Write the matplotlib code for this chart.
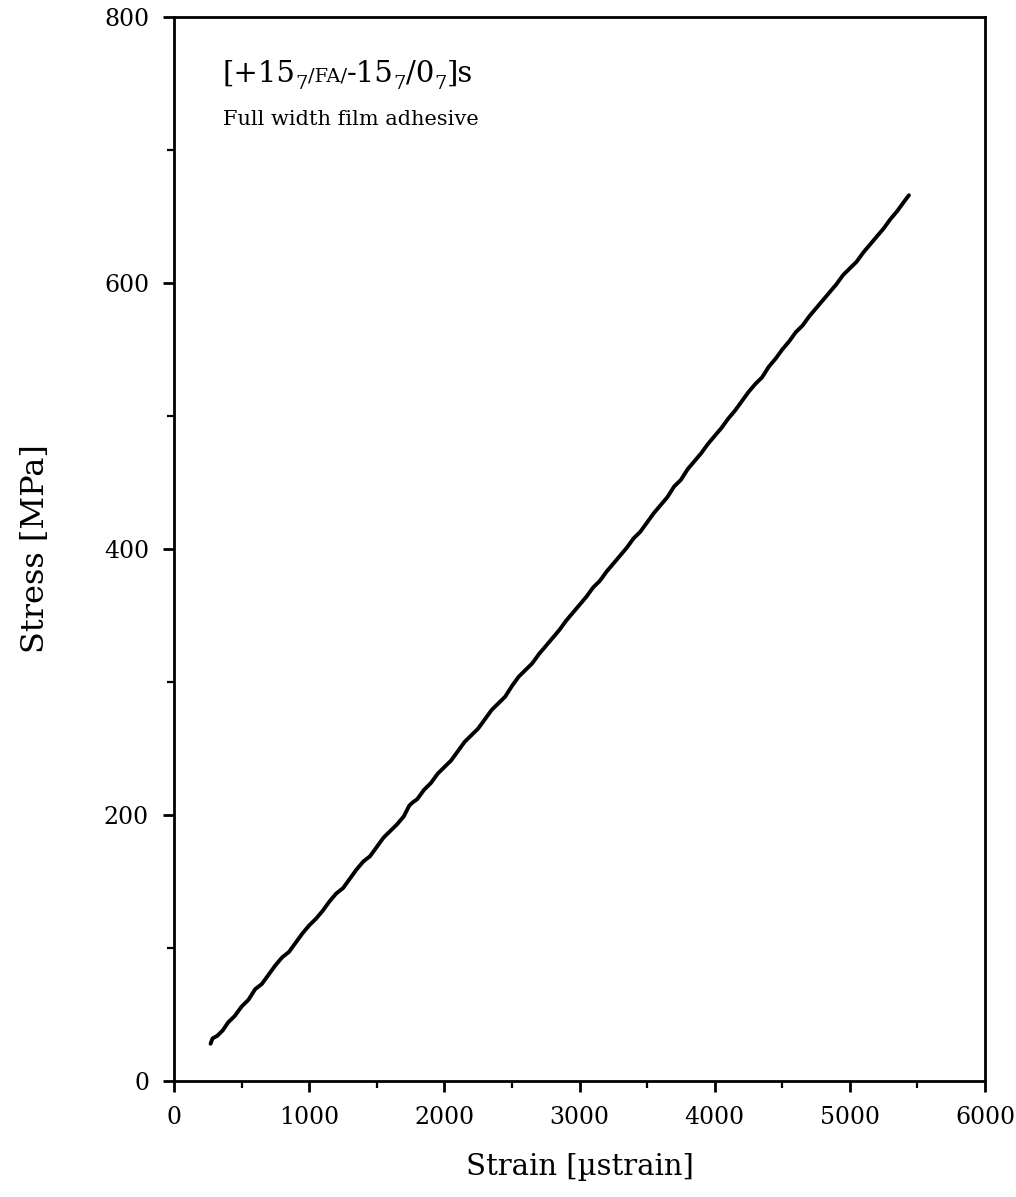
import matplotlib
matplotlib.use("Agg")
import matplotlib.pyplot as plt
from matplotlib.ticker import MultipleLocator

strain = [270, 285, 320, 360, 400, 450, 500, 550, 600, 650, 700, 750, 800, 850, 900, 950,
          1000, 1050, 1100, 1150, 1200, 1250, 1300, 1350, 1400, 1450, 1500, 1550, 1600, 1650,
          1700, 1740, 1760, 1800, 1850, 1900, 1950, 2000, 2050, 2100, 2150, 2200, 2250, 2300,
          2350, 2400, 2450, 2500, 2550, 2600, 2650, 2700, 2750, 2800, 2850, 2900, 2950, 3000,
          3050, 3100, 3150, 3200, 3250, 3300, 3350, 3400, 3450, 3500, 3550, 3600, 3650, 3700,
          3750, 3800, 3850, 3900, 3950, 4000, 4050, 4100, 4150, 4200, 4250, 4300, 4350, 4400,
          4450, 4500, 4550, 4600, 4650, 4700, 4750, 4800, 4850, 4900, 4950, 5000, 5050, 5100,
          5150, 5200, 5250, 5300, 5350, 5400, 5437]
stress = [28, 32, 34, 38, 44, 49, 56, 61, 69, 73, 80, 87, 93, 97, 104, 111,
          117, 122, 128, 135, 141, 145, 152, 159, 165, 169, 176, 183, 188, 193,
          199, 207, 209, 212, 219, 224, 231, 236, 241, 248, 255, 260, 265, 272,
          279, 284, 289, 297, 304, 309, 314, 321, 327, 333, 339, 346, 352, 358,
          364, 371, 376, 383, 389, 395, 401, 408, 413, 420, 427, 433, 439, 447,
          452, 460, 466, 472, 479, 485, 491, 498, 504, 511, 518, 524, 529, 537,
          543, 550, 556, 563, 568, 575, 581, 587, 593, 599, 606, 611, 616, 623,
          629, 635, 641, 648, 654, 661, 666]

x_ticks = [0, 1000, 2000, 3000, 4000, 5000, 6000]
y_ticks = [0, 200, 400, 600, 800]

serif = "DejaVu Serif"
plt.rcParams['font.family'] = [serif]

fig = plt.figure(figsize=(10.16, 11.97), dpi=100)
ax = fig.add_axes([0.1713, 0.0969, 0.7982, 0.8889])

ax.plot(strain, stress, color='black', lw=2.8, solid_capstyle='round', solid_joinstyle='round')

ax.set_xlim(0, 6000)
ax.set_ylim(0, 800)
ax.set_xticks(x_ticks)
ax.set_yticks(y_ticks)
ax.xaxis.set_minor_locator(MultipleLocator(500))
ax.yaxis.set_minor_locator(MultipleLocator(100))
ax.tick_params(which='major', direction='out', length=8, width=2, labelsize=17, pad=10)
ax.tick_params(which='minor', direction='out', length=5, width=1.6)
for sp in ax.spines.values():
    sp.set_linewidth(2)

ax.set_xlabel("Strain [\u00b5strain]", fontsize=21, labelpad=17)
ax.set_ylabel("Stress [MPa]", fontsize=23, labelpad=38)

# annotation line 1 built from pieces placed along a common baseline
big = 21
small = 14
x0, y0 = 0.06, 0.939
pieces = [("[+15", big, 0), ("7", small, -7), ("/FA/", small, 0), ("-15", big, 0),
          ("7", small, -7), ("/0", big, 0), ("7", small, -7), ("]s", big, 0)]
fig.canvas.draw()
renderer = fig.canvas.get_renderer()
x_disp, y_disp = ax.transAxes.transform((x0, y0))
for s, fs, dy in pieces:
    t = fig.text(x_disp / fig.bbox.width, (y_disp + dy) / fig.bbox.height, s,
                 fontsize=fs, va='baseline', ha='left')
    bb = t.get_window_extent(renderer=renderer)
    x_disp = bb.x1
ax.text(x0, 0.8985, "Full width film adhesive", transform=ax.transAxes, fontsize=15,
        va='baseline', ha='left')

fig.savefig("out.png", dpi=100)
